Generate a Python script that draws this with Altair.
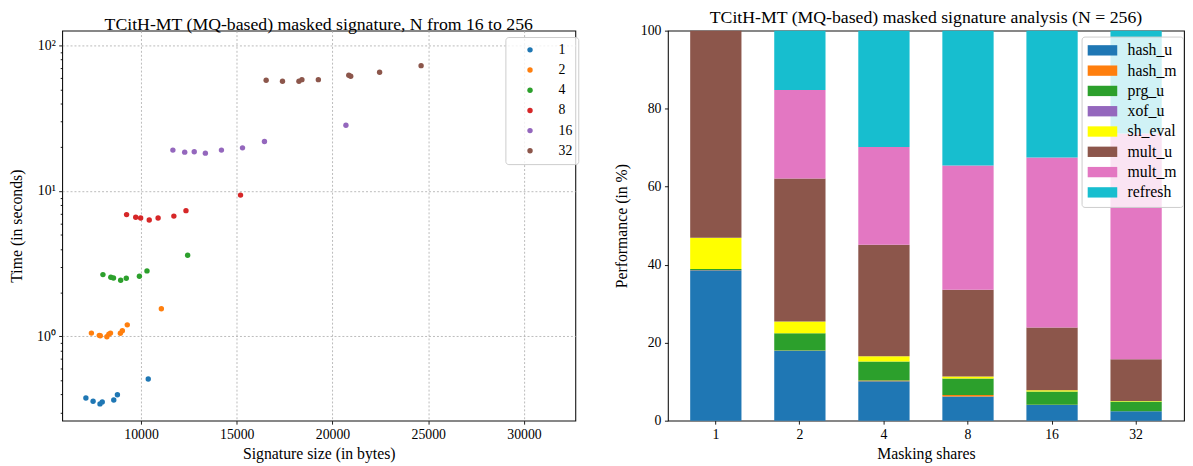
import altair as alt
import pandas as pd

FONT = "Liberation Serif"

# ---------------- left chart data: signature size vs time ----------------
shares = ["1", "2", "4", "8", "16", "32"]
share_colors = ["#1f77b4", "#ff7f0e", "#2ca02c", "#d62728", "#9467bd", "#8c564b"]

size_1 = [7119, 7495, 7855, 7973, 8575, 8765, 10375]
time_1 = [0.377, 0.358, 0.343, 0.354, 0.365, 0.397, 0.509]
size_2 = [7407, 7819, 7870, 8215, 8318, 8405, 8920, 9023, 9280, 11060]
time_2 = [1.053, 1.016, 1.010, 0.994, 1.036, 1.053, 1.050, 1.092, 1.20, 1.547]
size_4 = [8009, 8421, 8560, 8935, 9228, 9913, 10309, 12433]
time_4 = [2.66, 2.55, 2.52, 2.43, 2.51, 2.59, 2.82, 3.61]
size_8 = [9244, 9722, 9979, 10427, 10890, 11713, 12346, 15195]
time_8 = [6.88, 6.59, 6.52, 6.31, 6.52, 6.72, 7.32, 9.37]
size_16 = [11662, 12279, 12778, 13359, 14198, 15298, 16445, 20700]
time_16 = [19.1, 18.5, 18.6, 18.2, 19.1, 19.8, 21.9, 28.3]
size_32 = [16533, 17387, 18246, 18400, 19259, 20850, 20950, 22459, 24625]
time_32 = [57.7, 56.8, 56.8, 58.3, 58.3, 62.5, 61.5, 65.5, 72.8]

x_ticks = [10000, 15000, 20000, 25000, 30000]
y_ticks = [0.3, 0.4, 0.5, 0.6, 0.7, 0.8, 0.9,
           1, 2, 3, 4, 5, 6, 7, 8, 9,
           10, 20, 30, 40, 50, 60, 70, 80, 90, 100]

# ---------------- right chart data: share of time per component ----------------
components = ["hash_u", "hash_m", "prg_u", "xof_u", "sh_eval", "mult_u", "mult_m", "refresh"]
comp_colors = ["#1f77b4", "#ff7f0e", "#2ca02c", "#9467bd", "#ffff00", "#8c564b", "#e377c2", "#17becf"]

hash_u = [38.6, 17.9, 10.1, 6.2, 4.0, 2.4]
hash_m = [0.05, 0.1, 0.2, 0.4, 0.1, 0.05]
prg_u = [0.25, 4.4, 4.9, 4.2, 3.4, 2.5]
xof_u = [0.0, 0.0, 0.0, 0.0, 0.0, 0.0]
sh_eval = [8.0, 3.0, 1.3, 0.5, 0.3, 0.1]
mult_u = [53.1, 36.7, 28.6, 22.3, 16.1, 10.7]
mult_m = [0.0, 22.7, 25.1, 31.8, 43.6, 57.9]
refresh = [0.0, 15.2, 29.8, 34.6, 32.5, 26.35]
pct_ticks = [0, 20, 40, 60, 80, 100]

# ---------------- tables ----------------
rows = []
for s, xs, ys in zip(shares,
                     [size_1, size_2, size_4, size_8, size_16, size_32],
                     [time_1, time_2, time_4, time_8, time_16, time_32]):
    for x, y in zip(xs, ys):
        rows.append({"shares": s, "size": x, "time": y})
df_sc = pd.DataFrame(rows)

brows = []
for ci, (c, vals) in enumerate(zip(components,
                                   [hash_u, hash_m, prg_u, xof_u, sh_eval, mult_u, mult_m, refresh])):
    for s, v in zip(shares, vals):
        brows.append({"shares": s, "component": c, "value": v, "idx": ci})
df_bar = pd.DataFrame(brows)

major_test = "datum.value == 1 || datum.value == 10 || datum.value == 100"

W_LEFT, W_RIGHT, H = 521, 524, 396

scatter = alt.Chart(df_sc).mark_circle(size=30, opacity=1).encode(
    x=alt.X("size:Q",
            scale=alt.Scale(domain=[5880, 32680], nice=False, zero=False),
            axis=alt.Axis(title="Signature size (in bytes)", values=x_ticks, format="d",
                          grid=True, gridDash=[2, 2], gridColor="#aaaaaa", gridWidth=0.8)),
    y=alt.Y("time:Q",
            scale=alt.Scale(type="log", domain=[0.263, 126.7], nice=False),
            axis=alt.Axis(title="Time (in seconds)", values=y_ticks,
                          labelExpr="datum.value == 1 ? '10⁰' : datum.value == 10 ? '10¹' : datum.value == 100 ? '10²' : ''",
                          tickSize={"condition": {"test": major_test, "value": 3.5}, "value": 2},
                          grid=True, gridDash=[2, 2], gridColor="#aaaaaa", gridWidth=0.8,
                          gridOpacity={"condition": {"test": major_test, "value": 1}, "value": 0},
                          titleX=-46, titleBaseline="middle")),
    color=alt.Color("shares:N", sort=shares,
                    scale=alt.Scale(domain=shares, range=share_colors),
                    legend=alt.Legend(title=None, orient="none", legendX=450, legendY=6.5,
                                      direction="vertical", symbolType="circle", symbolSize=30,
                                      padding=6, symbolOffset=12, labelOffset=22, rowPadding=6.5,
                                      fillColor="rgba(255,255,255,0.8)", strokeColor="#cccccc",
                                      cornerRadius=3, labelFontSize=14, labelFont=FONT,
                                      labelColor="black")),
).properties(width=W_LEFT, height=H,
             title="TCitH-MT (MQ-based) masked signature, N from 16 to 256")

bars = alt.Chart(df_bar).mark_bar().encode(
    x=alt.X("shares:N", sort=shares,
            scale=alt.Scale(paddingInner=0.39, paddingOuter=0.265),
            axis=alt.Axis(title="Masking shares", labelAngle=0)),
    y=alt.Y("value:Q", stack="zero",
            scale=alt.Scale(domain=[0, 100], nice=False),
            axis=alt.Axis(title="Performance (in %)", values=pct_ticks, grid=False,
                          titleX=-47, titleBaseline="middle")),
    color=alt.Color("component:N", sort=components,
                    scale=alt.Scale(domain=components, range=comp_colors),
                    legend=alt.Legend(title=None, orient="none", legendX=420, legendY=6,
                                      direction="vertical",
                                      symbolType="M-2,-0.7H2V0.7H-2Z", symbolSize=225,
                                      symbolStrokeWidth=0,
                                      padding=6, symbolOffset=7.2, labelOffset=17.5, rowPadding=4.6,
                                      fillColor="rgba(255,255,255,0.8)", strokeColor="#cccccc",
                                      cornerRadius=3, labelFontSize=16, labelFont=FONT,
                                      labelColor="black")),
    order=alt.Order("idx:Q", sort="ascending"),
).properties(width=W_RIGHT, height=H,
             title="TCitH-MT (MQ-based) masked signature analysis (N = 256)")

chart = alt.hconcat(scatter, bars, spacing=33).resolve_scale(
    color="independent"
).resolve_legend(
    color="independent"
).properties(
    padding={"left": 0, "top": -3.5, "right": 0, "bottom": 0}
).configure_view(
    stroke="#111111", strokeWidth=1.1
).configure_axis(
    domain=False, labelFont=FONT, titleFont=FONT, labelFontSize=14, titleFontSize=16,
    titleFontWeight="normal", labelColor="black", titleColor="black",
    tickColor="black", tickSize=3.5, tickWidth=0.9, labelPadding=3.5, titlePadding=4
).configure_title(
    font=FONT, fontSize=18, fontWeight="normal", color="black", offset=-3, frame="group"
).configure_legend(
    labelFont=FONT
)

chart.save("out.html", embed_options={"renderer": "svg", "actions": False})
